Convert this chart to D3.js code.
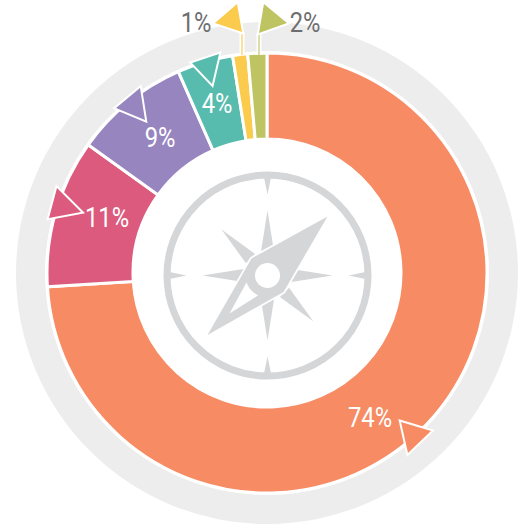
<!DOCTYPE html>
<html>
<head>
<meta charset="utf-8">
<style>
  html, body { margin: 0; padding: 0; background: #fff; }
  svg { display: block; }
  text { font-family: "Roboto", sans-serif; font-weight: 400; font-size: 27px; text-anchor: middle; }
</style>
</head>
<body>
<svg id="chart" width="522" height="528"></svg>
<script src="https://cdn.jsdelivr.net/npm/d3@7"></script>
<script>
// clockwise from 12 o'clock
const labels = ["74%", "11%", "9%", "4%", "1%", "2%"];
const shares = [74, 10.9, 8.5, 4.1, 1.1, 1.4];
const colors = ["#f78b64", "#dc5a7e", "#9785bf", "#57bcae", "#facb4c", "#bfc462"];

const width = 522, height = 528;
const cx = 267, cy = 273;

const svg = d3.select("#chart");
const chart = svg.append("g").attr("transform", `translate(${cx},${cy})`);

// grey outer band
chart.append("path")
  .attr("d", d3.arc().innerRadius(222).outerRadius(251).startAngle(0).endAngle(2 * Math.PI)())
  .attr("fill", "#ededed");

const pie = d3.pie().sort(null).value(d => d)(shares);
const arc = d3.arc().innerRadius(134).outerRadius(220);

chart.selectAll("path.slice")
  .data(pie)
  .enter()
  .append("path")
  .attr("class", "slice")
  .attr("d", arc)
  .attr("fill", (d, i) => colors[i])
  .attr("stroke", "#fff")
  .attr("stroke-width", 3);

// callout flags, same order as the slices (offsets from chart centre)
const flags = [
  [[134, 149], [164, 158], [141, 180]],
  [[-210, -85], [-186, -61], [-218, -55]],
  [[-127, -185], [-122, -153], [-151, -165]],
  [[-48, -219], [-55, -189], [-75, -210]],
  [[-30, -269], [-25, -241], [-52, -250]],
  [[-3, -269], [-8, -240], [20, -250]]
];
const stems = [null, null, null, null, [-25, -241, -218], [-8, -240, -218]];

stems.forEach((s, i) => {
  if (!s) return;
  chart.append("line")
    .attr("x1", s[0]).attr("x2", s[0])
    .attr("y1", s[1]).attr("y2", s[2])
    .attr("stroke", "#fff").attr("stroke-width", 5);
  chart.append("line")
    .attr("x1", s[0]).attr("x2", s[0])
    .attr("y1", s[1]).attr("y2", s[2])
    .attr("stroke", colors[i]).attr("stroke-width", 1.5).attr("opacity", 0.75);
});

chart.selectAll("path.flag")
  .data(flags)
  .enter()
  .append("path")
  .attr("class", "flag")
  .attr("d", d => d3.line()(d) + "Z")
  .attr("fill", (d, i) => colors[i])
  .attr("stroke", "#fff")
  .attr("stroke-width", 4)
  .attr("stroke-linejoin", "miter")
  .attr("paint-order", "stroke");

// percent labels, squeezed to the narrow face of the original
const labelPos = [[103, 145], [-160, -55], [-107, -135], [-50, -169], [-71, -250], [38, -250]];
const labelFill = ["#fff", "#fff", "#fff", "#fff", "#6d6e70", "#6d6e70"];

chart.selectAll("text.pct")
  .data(labels)
  .enter()
  .append("text")
  .attr("class", "pct")
  .attr("transform", (d, i) => `translate(${labelPos[i][0]},${labelPos[i][1]}) scale(0.88,1)`)
  .attr("dy", "0.35em")
  .attr("fill", (d, i) => labelFill[i])
  .text(d => d);

// compass in the hole
const grey = "#d5d6d8";
const compass = svg.append("g").attr("transform", "translate(267.5,275.5)");

compass.append("circle").attr("r", 100.5)
  .attr("fill", "none").attr("stroke", grey).attr("stroke-width", 7);

function spike(deg, inner, outer, half) {
  const a = deg * Math.PI / 180;
  const ux = Math.sin(a), uy = -Math.cos(a);
  return d3.line()([
    [ux * inner - uy * half, uy * inner + ux * half],
    [ux * outer, uy * outer],
    [ux * inner + uy * half, uy * inner - ux * half]
  ]) + "Z";
}

[0, 90, 180, 270].forEach(deg => {
  compass.append("path").attr("d", spike(deg, 98, 81, 3.5)).attr("fill", grey);
});
d3.range(0, 360, 45).forEach(deg => {
  compass.append("path").attr("d", spike(deg, 24, 65, 6.5)).attr("fill", grey);
});

// needle, white edge cuts into the star behind it
const needle = [[60, -59], [16, 16.5], [-60, 59.5], [-16, -17]];
compass.append("path")
  .attr("d", d3.line()(needle) + "Z")
  .attr("fill", grey)
  .attr("stroke", "#fff")
  .attr("stroke-width", 3.5)
  .attr("stroke-linejoin", "round")
  .attr("paint-order", "stroke");
compass.append("path")
  .attr("d", d3.line()([[-38, 38], [-8, 19], [-21, 7]]) + "Z")
  .attr("fill", "#fff");
compass.append("circle").attr("r", 22).attr("fill", grey);
compass.append("circle").attr("r", 12.5).attr("fill", "#fff");
</script>
</body>
</html>
